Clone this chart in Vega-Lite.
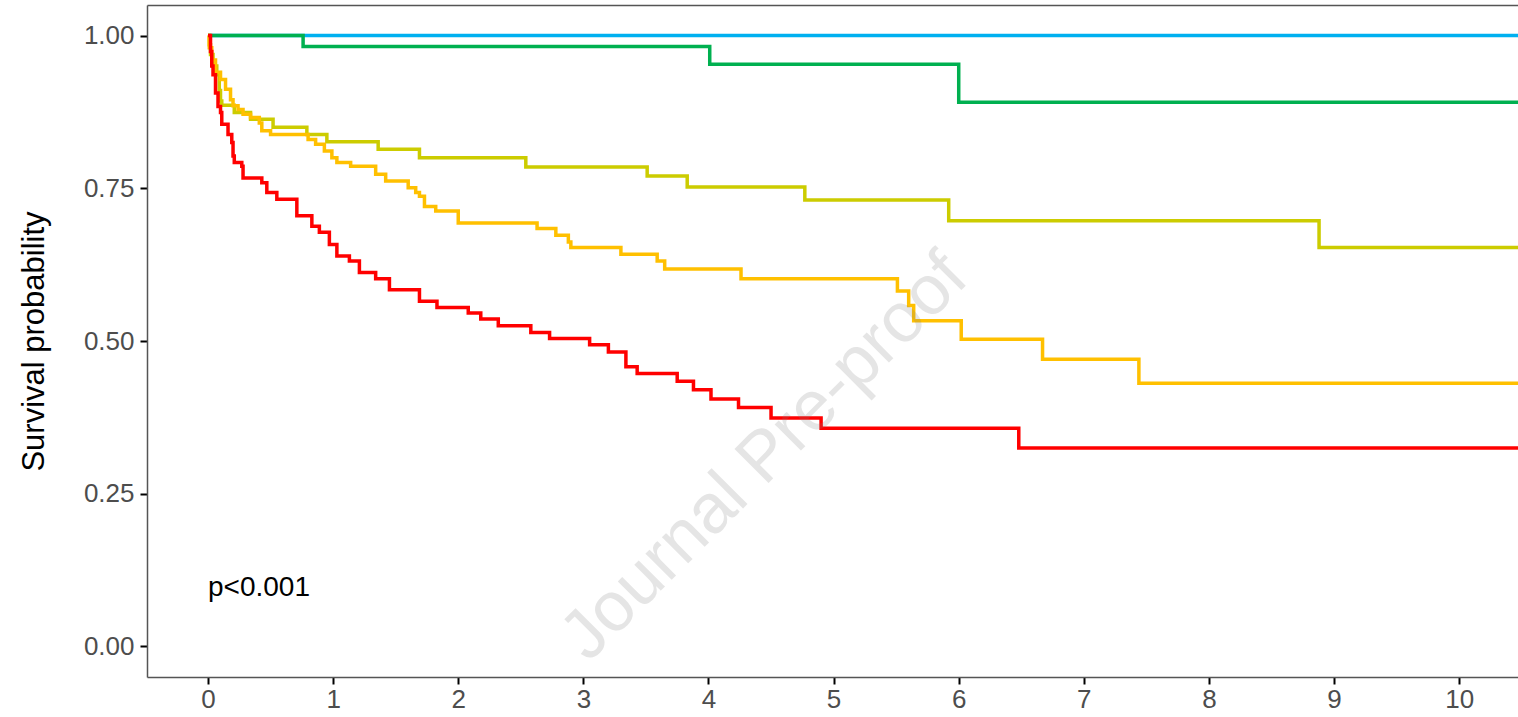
{
  "$schema": "https://vega.github.io/schema/vega-lite/v6.json",
  "autosize": {"type": "none"},
  "padding": {"left": 147, "top": 5, "right": 0, "bottom": 40},
  "width": 1371,
  "height": 672,
  "config": {"view": {"stroke": null}, "font": "Liberation Sans"},
  "datasets": {
    "surv": [
      {"g": "G1", "t": 0, "s": 1}, {"g": "G1", "t": 10.47, "s": 1},
      {"g": "G2", "t": 0, "s": 1}, {"g": "G2", "t": 0.76, "s": 0.982}, {"g": "G2", "t": 4.01, "s": 0.953}, {"g": "G2", "t": 6.0, "s": 0.891}, {"g": "G2", "t": 10.47, "s": 0.891},
      {"g": "G3", "t": 0, "s": 1}, {"g": "G3", "t": 0.01, "s": 0.985}, {"g": "G3", "t": 0.02, "s": 0.969}, {"g": "G3", "t": 0.04, "s": 0.95}, {"g": "G3", "t": 0.07, "s": 0.936}, {"g": "G3", "t": 0.09, "s": 0.91}, {"g": "G3", "t": 0.1, "s": 0.893}, {"g": "G3", "t": 0.11, "s": 0.886}, {"g": "G3", "t": 0.21, "s": 0.874}, {"g": "G3", "t": 0.34, "s": 0.863}, {"g": "G3", "t": 0.52, "s": 0.85}, {"g": "G3", "t": 0.79, "s": 0.838}, {"g": "G3", "t": 0.95, "s": 0.826}, {"g": "G3", "t": 1.36, "s": 0.814}, {"g": "G3", "t": 1.69, "s": 0.8}, {"g": "G3", "t": 2.54, "s": 0.785}, {"g": "G3", "t": 3.51, "s": 0.77}, {"g": "G3", "t": 3.83, "s": 0.752}, {"g": "G3", "t": 4.77, "s": 0.731}, {"g": "G3", "t": 5.92, "s": 0.697}, {"g": "G3", "t": 8.88, "s": 0.653}, {"g": "G3", "t": 10.47, "s": 0.653},
      {"g": "G4", "t": 0, "s": 1}, {"g": "G4", "t": 0.01, "s": 0.98}, {"g": "G4", "t": 0.03, "s": 0.96}, {"g": "G4", "t": 0.06, "s": 0.94}, {"g": "G4", "t": 0.1, "s": 0.928}, {"g": "G4", "t": 0.14, "s": 0.912}, {"g": "G4", "t": 0.18, "s": 0.895}, {"g": "G4", "t": 0.2, "s": 0.885}, {"g": "G4", "t": 0.24, "s": 0.879}, {"g": "G4", "t": 0.28, "s": 0.871}, {"g": "G4", "t": 0.34, "s": 0.866}, {"g": "G4", "t": 0.41, "s": 0.857}, {"g": "G4", "t": 0.43, "s": 0.844}, {"g": "G4", "t": 0.5, "s": 0.838}, {"g": "G4", "t": 0.8, "s": 0.83}, {"g": "G4", "t": 0.86, "s": 0.822}, {"g": "G4", "t": 0.93, "s": 0.811}, {"g": "G4", "t": 0.99, "s": 0.8}, {"g": "G4", "t": 1.03, "s": 0.792}, {"g": "G4", "t": 1.14, "s": 0.786}, {"g": "G4", "t": 1.34, "s": 0.773}, {"g": "G4", "t": 1.42, "s": 0.762}, {"g": "G4", "t": 1.6, "s": 0.751}, {"g": "G4", "t": 1.66, "s": 0.743}, {"g": "G4", "t": 1.69, "s": 0.737}, {"g": "G4", "t": 1.73, "s": 0.72}, {"g": "G4", "t": 1.82, "s": 0.713}, {"g": "G4", "t": 2.0, "s": 0.693}, {"g": "G4", "t": 2.63, "s": 0.684}, {"g": "G4", "t": 2.78, "s": 0.673}, {"g": "G4", "t": 2.88, "s": 0.662}, {"g": "G4", "t": 2.9, "s": 0.653}, {"g": "G4", "t": 3.3, "s": 0.642}, {"g": "G4", "t": 3.59, "s": 0.631}, {"g": "G4", "t": 3.65, "s": 0.618}, {"g": "G4", "t": 4.26, "s": 0.602}, {"g": "G4", "t": 5.51, "s": 0.582}, {"g": "G4", "t": 5.6, "s": 0.558}, {"g": "G4", "t": 5.64, "s": 0.533}, {"g": "G4", "t": 6.02, "s": 0.503}, {"g": "G4", "t": 6.67, "s": 0.47}, {"g": "G4", "t": 7.44, "s": 0.431}, {"g": "G4", "t": 10.47, "s": 0.431},
      {"g": "G5", "t": 0, "s": 1}, {"g": "G5", "t": 0.02, "s": 0.974}, {"g": "G5", "t": 0.03, "s": 0.95}, {"g": "G5", "t": 0.04, "s": 0.936}, {"g": "G5", "t": 0.06, "s": 0.906}, {"g": "G5", "t": 0.08, "s": 0.884}, {"g": "G5", "t": 0.1, "s": 0.874}, {"g": "G5", "t": 0.11, "s": 0.855}, {"g": "G5", "t": 0.16, "s": 0.838}, {"g": "G5", "t": 0.19, "s": 0.825}, {"g": "G5", "t": 0.2, "s": 0.803}, {"g": "G5", "t": 0.21, "s": 0.792}, {"g": "G5", "t": 0.27, "s": 0.786}, {"g": "G5", "t": 0.28, "s": 0.767}, {"g": "G5", "t": 0.43, "s": 0.759}, {"g": "G5", "t": 0.47, "s": 0.743}, {"g": "G5", "t": 0.55, "s": 0.732}, {"g": "G5", "t": 0.71, "s": 0.705}, {"g": "G5", "t": 0.83, "s": 0.688}, {"g": "G5", "t": 0.89, "s": 0.678}, {"g": "G5", "t": 0.97, "s": 0.658}, {"g": "G5", "t": 1.03, "s": 0.639}, {"g": "G5", "t": 1.13, "s": 0.631}, {"g": "G5", "t": 1.21, "s": 0.612}, {"g": "G5", "t": 1.34, "s": 0.602}, {"g": "G5", "t": 1.45, "s": 0.584}, {"g": "G5", "t": 1.69, "s": 0.565}, {"g": "G5", "t": 1.83, "s": 0.555}, {"g": "G5", "t": 2.08, "s": 0.546}, {"g": "G5", "t": 2.18, "s": 0.536}, {"g": "G5", "t": 2.32, "s": 0.525}, {"g": "G5", "t": 2.58, "s": 0.514}, {"g": "G5", "t": 2.73, "s": 0.504}, {"g": "G5", "t": 3.05, "s": 0.494}, {"g": "G5", "t": 3.2, "s": 0.482}, {"g": "G5", "t": 3.34, "s": 0.458}, {"g": "G5", "t": 3.43, "s": 0.447}, {"g": "G5", "t": 3.75, "s": 0.434}, {"g": "G5", "t": 3.88, "s": 0.42}, {"g": "G5", "t": 4.02, "s": 0.405}, {"g": "G5", "t": 4.24, "s": 0.391}, {"g": "G5", "t": 4.5, "s": 0.374}, {"g": "G5", "t": 4.9, "s": 0.357}, {"g": "G5", "t": 6.48, "s": 0.325}, {"g": "G5", "t": 10.47, "s": 0.325}
    ],
    "pval": [{"label": "p<0.001", "t": 0, "s": 0.096}],
    "mark": [{"label": "Journal Pre-proof", "t": 4.45, "s": 0.31}]
  },
  "layer": [
    {
      "data": {"name": "surv"},
      "mark": {"type": "line", "interpolate": "step-after", "strokeWidth": 3.5, "clip": true},
      "encoding": {
        "x": {
          "field": "t", "type": "quantitative",
          "scale": {"domain": [-0.4876, 10.47], "nice": false, "zero": false},
          "axis": {"values": [0, 1, 2, 3, 4, 5, 6, 7, 8, 9, 10], "format": "d", "title": null, "grid": false,
            "domainColor": "#555555", "domainWidth": 1.5, "tickColor": "#000000", "tickWidth": 2, "tickSize": 7,
            "labelFontSize": 26, "labelColor": "#4D4D4D", "labelPadding": 2, "labelFont": "Liberation Sans"}
        },
        "y": {
          "field": "s", "type": "quantitative",
          "scale": {"domain": [-0.05, 1.05], "nice": false, "zero": false},
          "axis": {"values": [0, 0.25, 0.5, 0.75, 1], "format": ".2f", "title": "Survival probability", "grid": false,
            "domainColor": "#555555", "domainWidth": 1.5, "tickColor": "#000000", "tickWidth": 2, "tickSize": 7,
            "labelFontSize": 26, "labelColor": "#4D4D4D", "labelPadding": 6, "labelFont": "Liberation Sans",
            "titleFontSize": 31, "titleFontWeight": "normal", "titleColor": "#000000", "titlePadding": 33, "titleFont": "Liberation Sans"}
        },
        "color": {
          "field": "g", "type": "nominal",
          "scale": {"domain": ["G1", "G2", "G3", "G4", "G5"], "range": ["#00B0F0", "#00B050", "#CCCC00", "#FFC000", "#FF0000"]},
          "legend": null
        }
      }
    },
    {
      "data": {"name": "pval"},
      "mark": {"type": "text", "align": "left", "baseline": "middle", "fontSize": 28, "color": "#000000", "font": "Liberation Sans"},
      "encoding": {
        "x": {"field": "t", "type": "quantitative",
          "axis": {"orient": "top", "labels": false, "ticks": false, "domain": true, "domainColor": "#555555", "domainWidth": 1.5, "grid": false, "title": null}},
        "y": {"field": "s", "type": "quantitative"},
        "text": {"field": "label"}
      }
    },
    {
      "data": {"name": "mark"},
      "mark": {"type": "text", "align": "center", "baseline": "middle", "fontSize": 70, "angle": -45, "color": "#808080", "opacity": 0.2, "font": "Liberation Sans"},
      "encoding": {
        "x": {"field": "t", "type": "quantitative", "axis": null},
        "y": {"field": "s", "type": "quantitative"},
        "text": {"field": "label"}
      }
    }
  ],
  "resolve": {"axis": {"x": "independent"}}
}
